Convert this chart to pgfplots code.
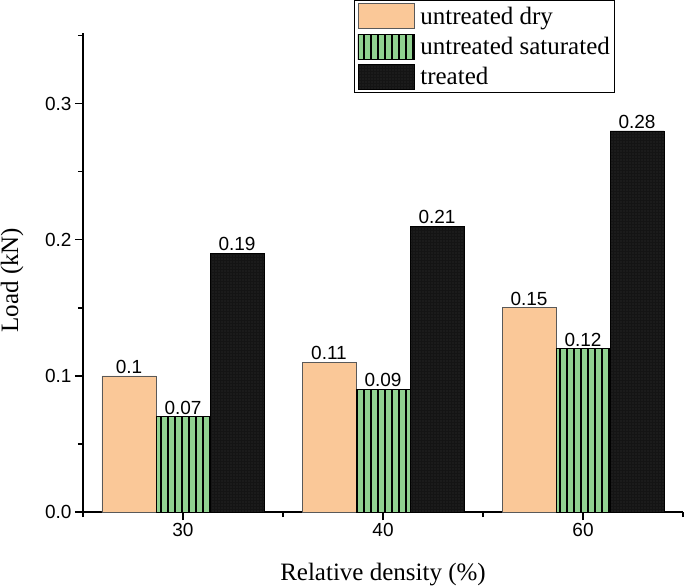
\documentclass[border=0pt]{standalone}
\usepackage{fontspec}
\setmainfont{Liberation Serif}
\newfontfamily\arial{Liberation Sans}
\usepackage{pgfplots}
\pgfplotsset{compat=1.18}
\usetikzlibrary{patterns.meta}

\definecolor{drycol}{HTML}{FAC898}
\definecolor{satcol}{HTML}{90D190}
\definecolor{trtcol}{HTML}{141414}

\begin{document}
\begin{tikzpicture}
\begin{axis}[
    name=ax,
    ybar=0pt,
    bar width=54pt,
    width=600pt, height=479pt, scale only axis,
    xmin=-0.5, xmax=2.5,
    ymin=0, ymax=0.352,
    axis x line*=bottom, axis y line*=left,
    axis line style={line width=1.3pt},
    xtick={0,1,2}, xticklabels={30,40,60},
    minor xtick={-0.5,0.5,1.5,2.5},
    ytick={0,0.1,0.2,0.3},
    minor ytick={0.05,0.15,0.25,0.35},
    tick align=outside,
    major tick length=8pt, minor tick length=5pt,
    every tick/.append style={black, line width=1.3pt},
    /pgf/number format/assume math mode=true,
    y tick label style={/pgf/number format/.cd, fixed, fixed zerofill, precision=1, /tikz/.cd},
    tick label style={font=\arial\fontsize{19}{21}\selectfont},
    xlabel={Relative density (\%)},
    ylabel={Load (kN)},
    label style={font=\fontsize{25}{28}\selectfont},
    xlabel style={at={(axis description cs:0.5,-0.1315)}, anchor=center},
    ylabel style={at={(axis description cs:-0.118,0.484)}, anchor=center, rotate=0},
    point meta=explicit symbolic,
    nodes near coords,
    nodes near coords style={font=\arial\fontsize{19}{21}\selectfont, black, inner sep=2pt},
    legend style={at={(0.4517,1.0689)}, anchor=north west, draw=black, line width=1pt,
        font=\fontsize{25}{28}\selectfont, inner sep=3pt, row sep=4.5pt,
        /tikz/every odd column/.append style={column sep=4pt}},
    legend cell align=left,
    legend image code/.code={\draw[#1, line width=0.8pt] (0pt,-12.5pt) rectangle (56pt,12.5pt);},
]
\addplot[fill=drycol, draw=black!65, line width=0.8pt]
    coordinates {(0,0.10) [0.1] (1,0.11) [0.11] (2,0.15) [0.15]};
\addplot[fill=satcol, draw=black, line width=0.8pt,
    postaction={pattern={Lines[angle=90,distance=7pt,line width=1.4pt]}, pattern color=black}]
    coordinates {(0,0.07) [0.07] (1,0.09) [0.09] (2,0.12) [0.12]};
\addplot[fill=trtcol, draw=black, line width=0.8pt,
    postaction={pattern={Dots[radius=0.45pt,distance=3pt]}, pattern color=black!55}]
    coordinates {(0,0.19) [0.19] (1,0.21) [0.21] (2,0.28) [0.28]};
\legend{untreated dry, untreated saturated, treated}
\end{axis}
\pgfresetboundingbox
\path ([shift={(-83pt,-74pt)}]ax.south west) rectangle ([shift={(2pt,33pt)}]ax.north east);
\end{tikzpicture}
\end{document}
